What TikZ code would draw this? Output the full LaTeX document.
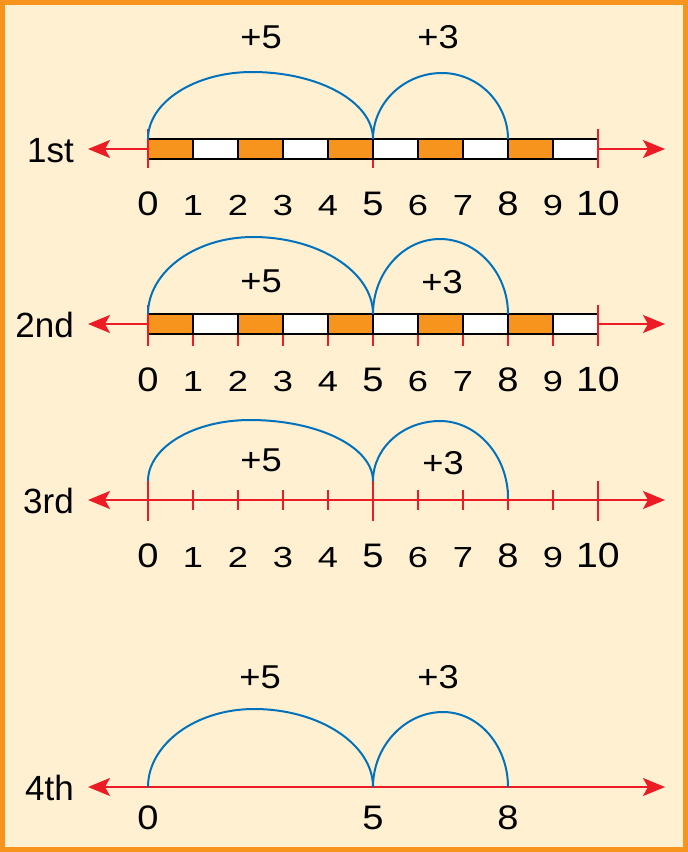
\documentclass[tikz,border=0pt]{standalone}
\usepackage{fontspec}
\setmainfont{Liberation Sans}
\newfontfamily\widefont[FakeStretch=1.1]{Liberation Sans}
\newfontfamily\bigdigfont[FakeStretch=1.12]{Liberation Sans}
\newfontfamily\smalldigfont[FakeStretch=1.25]{Liberation Sans}
\usetikzlibrary{arrows.meta}
\definecolor{frameor}{HTML}{F7941D}
\definecolor{cream}{HTML}{FFF0D2}
\definecolor{axred}{HTML}{ED1C24}
\definecolor{arcblue}{HTML}{0072BC}
\begin{document}
\begin{tikzpicture}[x=1pt,y=-1pt,
  tip/.tip={Stealth[length=22pt,width=18pt,inset=5pt]},
  axis/.style={draw=axred, line width=2pt},
  axisarrow/.style={axis, -tip},
  axisboth/.style={axis, tip-tip},
  tickmark/.style={draw=axred, line width=1.6pt},
  hop/.style={draw=arcblue, line width=2pt},
  cellor/.style={fill=frameor, draw=black, line width=1.3pt},
  cellwh/.style={fill=white, draw=black, line width=1.3pt},
  rowlabel/.style={anchor=base east, font=\fontsize{35}{40}\selectfont, inner sep=0pt},
  jumplabel/.style={anchor=base, font=\widefont\fontsize{33}{36}\selectfont, inner sep=0pt},
  numsmall/.style={anchor=base, font=\smalldigfont\fontsize{29}{32}\selectfont, inner sep=0pt},
  numbig/.style={anchor=base, font=\bigdigfont\fontsize{34}{38}\selectfont, inner sep=0pt},
  numten/.style={anchor=base, font=\bigdigfont\fontsize{35}{40}\selectfont, inner sep=0pt},
]
% frame
\path[use as bounding box, fill=frameor] (0,0) rectangle (688,852);
\fill[cream] (5,5) rectangle (683,847);

% ================= Row 1 =================
\node[rowlabel] (lab1) at (74,162) {1st};
\coordinate (r1L) at (88,149);
\coordinate (r1R) at (665,149);
\coordinate (r1t0) at (148,149);
\coordinate (r1t10) at (598,149);
\draw[axisarrow] (r1t0) -- (r1L);
\draw[axisarrow] (r1t10) -- (r1R);
\draw[tickmark] (373,137) -- (373,168);
\foreach \i in {0,2,4,6,8} \path[cellor] ({148+45*\i},139) rectangle ({193+45*\i},159);
\foreach \i in {1,3,5,7,9} \path[cellwh] ({148+45*\i},139) rectangle ({193+45*\i},159);
\draw[tickmark] (148,129) -- (148,168);
\draw[tickmark] (598,129) -- (598,168);
\coordinate (r1a0) at (148,139);
\coordinate (r1a5) at (373,139);
\coordinate (r1a8) at (508,139);
\coordinate (r1p5) at (252,72);
\coordinate (r1p3) at (442,73);
\draw[hop] (r1a0) .. controls +(0,-37) and +(-57,0) .. (r1p5) .. controls +(67,0) and +(0,-37) .. (r1a5);
\draw[hop] (r1a5) .. controls +(0,-36) and +(-38,0) .. (r1p3) .. controls +(36,0) and +(0,-36) .. (r1a8);
\node[jumplabel] (r1j5) at (261,48) {+5};
\node[jumplabel] (r1j3) at (438,48) {+3};
\foreach \i/\s in {0/numbig,1/numsmall,2/numsmall,3/numsmall,4/numsmall,5/numbig,6/numsmall,7/numsmall,8/numbig,9/numsmall,10/numten}
  \node[\s] (r1n\i) at ({148+45*\i},215) {\i};

% ================= Row 2 =================
\node[rowlabel] (lab2) at (74,337) {2nd};
\coordinate (r2L) at (88,324);
\coordinate (r2R) at (665,324);
\coordinate (r2t0) at (148,324);
\coordinate (r2t10) at (598,324);
\draw[axisarrow] (r2t0) -- (r2L);
\draw[axisarrow] (r2t10) -- (r2R);
\foreach \i in {1,2,3,4,6,7,8,9} \draw[tickmark] ({148+45*\i},324) -- ({148+45*\i},346);
\draw[tickmark] (373,305) -- (373,346);
\foreach \i in {0,2,4,6,8} \path[cellor] ({148+45*\i},314) rectangle ({193+45*\i},334);
\foreach \i in {1,3,5,7,9} \path[cellwh] ({148+45*\i},314) rectangle ({193+45*\i},334);
\draw[tickmark] (148,305) -- (148,346);
\draw[tickmark] (598,305) -- (598,346);
\coordinate (r2a0) at (148,314);
\coordinate (r2a5) at (373,314);
\coordinate (r2a8) at (508,314);
\coordinate (r2p5) at (253,237);
\coordinate (r2p3) at (440,239);
\draw[hop] (r2a0) .. controls +(0,-42) and +(-58,0) .. (r2p5) .. controls +(66,0) and +(0,-42) .. (r2a5);
\draw[hop] (r2a5) .. controls +(0,-41) and +(-37,0) .. (r2p3) .. controls +(37,0) and +(0,-41) .. (r2a8);
\node[jumplabel] (r2j5) at (261,292) {+5};
\node[jumplabel] (r2j3) at (442,293) {+3};
\foreach \i/\s in {0/numbig,1/numsmall,2/numsmall,3/numsmall,4/numsmall,5/numbig,6/numsmall,7/numsmall,8/numbig,9/numsmall,10/numten}
  \node[\s] (r2n\i) at ({148+45*\i},391) {\i};

% ================= Row 3 =================
\node[rowlabel] (lab3) at (74,513) {3rd};
\coordinate (r3L) at (88,500);
\coordinate (r3R) at (665,500);
\draw[axisboth] (r3L) -- (r3R);
\foreach \i in {1,2,3,4,6,7,8,9} \draw[tickmark] ({148+45*\i},490) -- ({148+45*\i},510);
\foreach \i in {0,5,10} \draw[tickmark] ({148+45*\i},481) -- ({148+45*\i},521);
\coordinate (r3a0) at (148,481);
\coordinate (r3a5) at (373,481);
\coordinate (r3a8) at (508,498);
\coordinate (r3p5) at (250,420);
\coordinate (r3p3) at (440,421);
\draw[hop] (r3a0) .. controls +(0,-34) and +(-56,0) .. (r3p5) .. controls +(68,0) and +(0,-34) .. (r3a5);
\draw[hop] (r3a5) .. controls +(0,-33) and +(-37,0) .. (r3p3) .. controls +(37,0) and +(0,-42) .. (r3a8);
\node[jumplabel] (r3j5) at (261,471) {+5};
\node[jumplabel] (r3j3) at (443,474) {+3};
\foreach \i/\s in {0/numbig,1/numsmall,2/numsmall,3/numsmall,4/numsmall,5/numbig,6/numsmall,7/numsmall,8/numbig,9/numsmall,10/numten}
  \node[\s] (r3n\i) at ({148+45*\i},567) {\i};

% ================= Row 4 =================
\node[rowlabel] (lab4) at (74,800) {4th};
\coordinate (r4L) at (88,787);
\coordinate (r4R) at (665,787);
\draw[axisboth] (r4L) -- (r4R);
\coordinate (r4a0) at (148,787);
\coordinate (r4a5) at (373,787);
\coordinate (r4a8) at (508,787);
\coordinate (r4p5) at (254,709);
\coordinate (r4p3) at (443,712);
\draw[hop] (r4a0) .. controls +(0,-43) and +(-58,0) .. (r4p5) .. controls +(65,0) and +(0,-43) .. (r4a5);
\draw[hop] (r4a5) .. controls +(0,-41) and +(-38,0) .. (r4p3) .. controls +(36,0) and +(0,-41) .. (r4a8);
\node[jumplabel] (r4j5) at (260,688) {+5};
\node[jumplabel] (r4j3) at (438,688) {+3};
\node[numbig] (r4n0) at (148,829) {0};
\node[numbig] (r4n5) at (373,829) {5};
\node[numbig] (r4n8) at (508,829) {8};
\end{tikzpicture}
\end{document}
